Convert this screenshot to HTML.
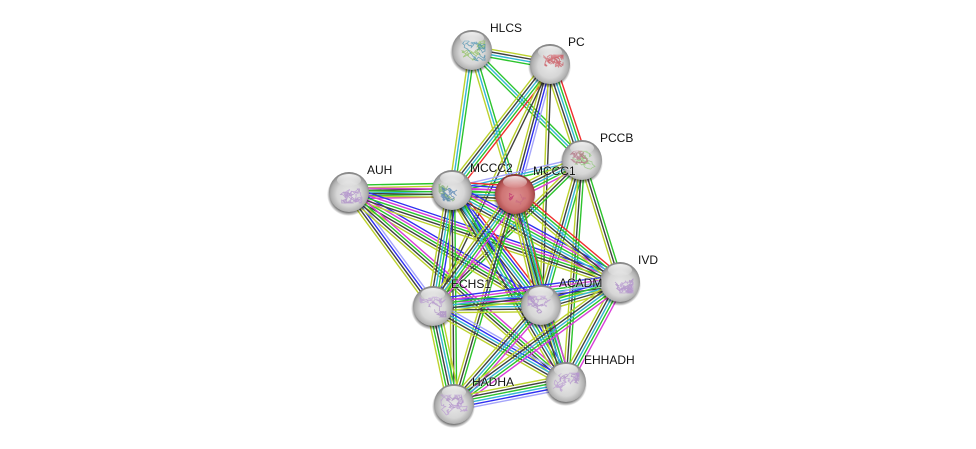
<!DOCTYPE html>
<html><head><meta charset="utf-8"><style>
html,body{margin:0;padding:0;background:#fff;width:976px;height:449px;overflow:hidden}
svg{display:block}
text{font-family:"Liberation Sans",sans-serif;font-size:12px;fill:#111;paint-order:stroke;stroke:rgba(255,255,255,.4);stroke-width:1.5px}
</style></head><body>
<svg id="s" width="976" height="449" viewBox="0 0 976 449" xmlns="http://www.w3.org/2000/svg">
<defs>
<radialGradient id="sp" cx=".5" cy=".55" r=".55"><stop offset="0" stop-color="#e8e8e8"/><stop offset=".55" stop-color="#d6d6d6"/><stop offset=".82" stop-color="#b0b0b0"/><stop offset="1" stop-color="#7c7c7c"/></radialGradient>
<radialGradient id="spr" cx=".5" cy=".55" r=".55"><stop offset="0" stop-color="#dd9090"/><stop offset=".6" stop-color="#cf7575"/><stop offset=".85" stop-color="#b04f4f"/><stop offset="1" stop-color="#7a2c2c"/></radialGradient>
<linearGradient id="gl" x1="0" y1="0" x2="0" y2="1"><stop offset="0" stop-color="#fff" stop-opacity=".85"/><stop offset="1" stop-color="#fff" stop-opacity=".05"/></linearGradient>
<radialGradient id="sh" cx=".5" cy=".5" r=".5"><stop offset=".82" stop-color="#000" stop-opacity=".55"/><stop offset="1" stop-color="#000" stop-opacity="0"/></radialGradient>
</defs>
<g id="edges" fill="none" stroke-width="1.4"></g>
<g id="nodes"></g>
<text x="490" y="32">HLCS</text>
<text x="568" y="46">PC</text>
<text x="600" y="142">PCCB</text>
<text x="367" y="174">AUH</text>
<text x="470" y="172">MCCC2</text>
<text x="533" y="175">MCCC1</text>
<text x="638" y="264">IVD</text>
<text x="559" y="287">ACADM</text>
<text x="451" y="288">ECHS1</text>
<text x="584" y="364">EHHADH</text>
<text x="472" y="386">HADHA</text>
</svg>
<script>
var N={HL:[472,50],PC:[550,64],PB:[582,160],AU:[349,192],M2:[452,190],M1:[515,194],IV:[620,282],AC:[541,305],EC:[433,306],EH:[566,382],HA:[454,404]};
var C={r:'#f02d2d',g:'#2cc42c',b:'#2f2ff0',k:'#404040',m:'#d83cd8',c:'#35b5d5',y:'#bcd22e',l:'#a5a5fa'};
var E=[
['HL','PC','ykcg'],['HL','M2','gcy'],['HL','M1','gcy'],['HL','PB','gcg'],
['PC','M2','rgcky'],['PC','M1','lbky'],['PC','PB','rgcky'],['PC','AC','ky'],['PC','EC','ky'],
['PB','M2','gcl'],['PB','M1','mgcky'],['PB','AC','gcky'],['PB','IV','gky'],['PB','EC','gky'],['PB','EH','gky'],
['AU','M2','gykcgm'],['AU','M1','mgky'],['AU','EC','lbky'],['AU','AC','bmgky'],['AU','IV','bmgky'],['AU','EH','mgky'],
['M2','M1','rbmgcky'],['M2','EC','bgcky'],['M2','AC','rbgcky'],['M2','IV','bmgcky'],['M2','EH','bgcky'],['M2','HA','gky'],
['M1','EC','mgcky'],['M1','AC','rgcky'],['M1','IV','rgcky'],['M1','EH','gcky'],['M1','HA','gky'],
['EC','AC','bmgcky'],['EC','IV','bmgcky'],['EC','EH','lbcky'],['EC','HA','ygckgy'],
['AC','IV','lbgcky'],['AC','EH','mgcky'],['AC','HA','mgcky'],
['IV','EH','mgcky'],['IV','HA','mgcky'],['EH','HA','lbcgky']
];
var ns='http://www.w3.org/2000/svg',g=document.getElementById('edges');
E.forEach(function(e){var a=N[e[0]],b=N[e[1]],dx=b[0]-a[0],dy=b[1]-a[1],L=Math.hypot(dx,dy),px=-dy/L,py=dx/L,n=e[2].length;
 for(var i=0;i<n;i++){var o=(i-(n-1)/2)*2.7,l=document.createElementNS(ns,'line');
  l.setAttribute('x1',a[0]+px*o);l.setAttribute('y1',a[1]+py*o);l.setAttribute('x2',b[0]+px*o);l.setAttribute('y2',b[1]+py*o);
  l.setAttribute('stroke',C[e[2][i]]);g.appendChild(l);}});
var P={HL:['#8fc060','#4a90b0'],PC:['#c8505a','#d06a70'],PB:['#8fc878','#b07080'],M2:['#7fb070','#5080b0'],M1:['#c03070','#c86a80']};
var ng=document.getElementById('nodes'),seed=7;
function R(){seed=(seed*16807)%2147483647;return seed/2147483647;}
function add(tag,at,par){var x=document.createElementNS(ns,tag);for(var k in at)x.setAttribute(k,at[k]);(par||ng).appendChild(x);return x;}
Object.keys(N).forEach(function(k){var c=N[k],x=c[0],y=c[1];
 add('circle',{cx:x-.5,cy:y+2.5,r:21.5,fill:'url(#sh)'});
 add('circle',{cx:x,cy:y,r:20,fill:k=='M1'?'url(#spr)':'url(#sp)'});
 var cols=P[k]||['#a98ac4','#b89ad0'];
 for(var j=0;j<2;j++){
  var px=x+(j?5:-5),py=y,d='M'+px+' '+py,n=k=='M1'?14:80;
  for(var i=0;i<n;i++){px+=(R()-.5)*7;py+=(R()-.5)*6;
   px=Math.max(x-13,Math.min(x+13,px));py=Math.max(y-9,Math.min(y+11,py));
   d+='L'+px.toFixed(1)+' '+py.toFixed(1);}
  add('path',{d:d,fill:'none',stroke:cols[j],'stroke-width':.8,opacity:.75});
 }
 add('ellipse',{cx:x,cy:y-12,rx:12,ry:6,fill:'url(#gl)'});
});
</script>
</body></html>
